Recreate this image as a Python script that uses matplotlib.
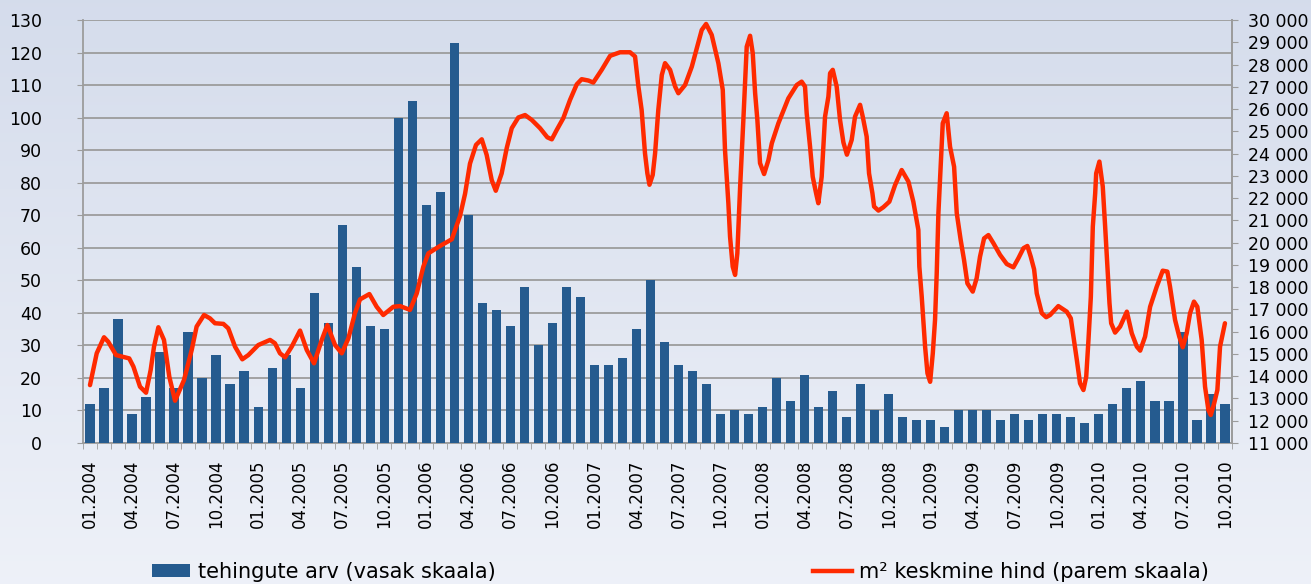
import numpy as np
import matplotlib
matplotlib.use('agg')
import matplotlib.pyplot as plt
from matplotlib.patches import Patch
from matplotlib.lines import Line2D
from matplotlib.ticker import FuncFormatter, FixedLocator

# monthly number of transactions (left scale), 01.2004 .. 10.2010
deals = [12, 17, 38, 9, 14, 28, 17, 34, 20, 27, 18, 22,
         11, 23, 27, 17, 46, 37, 67, 54, 36, 35, 100, 105,
         73, 77, 123, 70, 43, 41, 36, 48, 30, 37, 48, 45,
         24, 24, 26, 35, 50, 31, 24, 22, 18, 9, 10, 9,
         11, 20, 13, 21, 11, 16, 8, 18, 10, 15, 8, 7,
         7, 5, 10, 10, 10, 7, 9, 7, 9, 9, 8, 6,
         9, 12, 17, 19, 13, 13, 34, 7, 15, 12]

# average price per m2 (right scale); position in months from 01.2004
price_month = [0.0, 0.48, 1.0, 1.3, 1.86, 2.8, 3.1, 3.57, 4.0, 4.33, 4.57, 4.88, 5.28, 5.66, 6.07,
               6.71, 7.26, 7.61, 8.14, 8.56, 8.92, 9.52, 9.87, 10.35, 10.87, 11.3, 12.01, 12.85,
               13.2, 13.56, 13.92, 14.4, 14.99, 15.47, 15.99, 16.54, 16.94, 17.49, 17.97, 18.44,
               18.91, 19.27, 19.94, 20.46, 20.93, 21.65, 22.13, 22.84, 23.32, 23.79, 24.15, 24.98,
               25.82, 26.41, 26.77, 27.12, 27.55, 27.96, 28.31, 28.67, 28.96, 29.38, 29.74, 30.1,
               30.57, 31.05, 31.53, 32.12, 32.64, 32.96, 33.31, 33.78, 34.26, 34.74, 35.09, 35.57,
               35.92, 36.52, 37.12, 37.83, 38.54, 38.9, 39.14, 39.37, 39.61, 39.78, 39.93, 40.16,
               40.33, 40.56, 40.81, 41.04, 41.4, 41.76, 41.99, 42.47, 42.95, 43.31, 43.66, 43.97,
               44.37, 44.85, 45.16, 45.32, 45.56, 45.68, 45.87, 46.04, 46.2, 46.4, 46.63, 46.87,
               47.11, 47.3, 47.47, 47.63, 47.82, 48.11, 48.42, 48.66, 49.13, 49.84, 50.44, 50.79,
               51.03, 51.15, 51.39, 51.58, 51.82, 51.98, 52.22, 52.46, 52.7, 52.82, 53.01, 53.29,
               53.53, 53.77, 54.02, 54.36, 54.6, 54.96, 55.15, 55.43, 55.6, 55.84, 55.96, 56.27,
               56.62, 57.05, 57.46, 57.93, 58.41, 58.76, 59.12, 59.19, 59.36, 59.6, 59.77, 59.96,
               60.15, 60.31, 60.43, 60.55, 60.72, 60.86, 61.14, 61.38, 61.67, 61.86, 62.14, 62.38,
               62.62, 63.0, 63.28, 63.52, 63.81, 64.12, 64.48, 64.95, 65.43, 65.9, 66.26, 66.62,
               66.9, 67.14, 67.38, 67.57, 67.93, 68.24, 68.52, 69.11, 69.71, 70.0, 70.19, 70.43,
               70.66, 70.9, 71.1, 71.26, 71.43, 71.57, 71.74, 71.81, 72.04, 72.28, 72.45, 72.61,
               72.76, 72.88, 73.16, 73.52, 74.0, 74.35, 74.71, 74.95, 75.3, 75.66, 76.13, 76.56,
               76.89, 77.08, 77.44, 77.74, 77.99, 78.27, 78.51, 78.79, 79.03, 79.34, 79.58, 79.82,
               79.99, 80.23, 80.46, 80.65, 81.0]
price_value = [13600, 15030, 15750, 15550, 14950, 14800, 14430, 13530, 13260, 14280, 15330, 16200,
               15630, 13980, 12900, 13830, 15180, 16230, 16750, 16600, 16380, 16350, 16150, 15330,
               14760, 14950, 15400, 15630, 15480, 15030, 14850, 15330, 16050, 15180, 14580, 15630,
               16300, 15400, 15030, 15700, 16830, 17450, 17690, 17120, 16750, 17120, 17150, 16980,
               17720, 18920, 19520, 19850, 20150, 21200, 22200, 23550, 24390, 24640, 23940, 22810,
               22330, 23110, 24240, 25140, 25620, 25730, 25510, 25140, 24730, 24640, 25060, 25590,
               26410, 27110, 27340, 27280, 27190, 27760, 28390, 28550, 28550, 28360, 27010, 25960,
               24010, 23110, 22600, 23040, 24010, 25960, 27530, 28060, 27760, 27010, 26710, 27080,
               27900, 28730, 29550, 29820, 29330, 28050, 26860, 24160, 21770, 20270, 18920, 18550,
               19520, 22510, 25510, 28800, 29290, 28510, 26710, 25510, 23570, 23080, 23710, 24460,
               25360, 26480, 27080, 27230, 27010, 25810, 24310, 22960, 22220, 21770, 22960, 25660,
               26560, 27610, 27760, 27010, 25510, 24500, 23950, 24610, 25660, 26190, 25660, 24760,
               23110, 22220, 21620, 21440, 21590, 21840, 22590, 23260, 22740, 21840, 20570, 18920,
               17570, 15330, 14130, 13750, 15030, 16530, 18620, 21320, 23560, 25360, 25810, 24310,
               23410, 21320, 20120, 19220, 18170, 17800, 18400, 19370, 20190, 20340, 19970, 19450,
               19040, 18890, 19300, 19750, 19850, 19370, 18800, 17720, 16830, 16650, 16750, 17150,
               16900, 16600, 15780, 14730, 13680, 13380, 13980, 15630, 17570, 20720, 22220, 23110,
               23640, 22520, 20720, 18920, 17280, 16380, 15960, 16230, 16900, 15930, 15330, 15150,
               15780, 17120, 18020, 18740, 18700, 18020, 16530, 15780, 15300, 15930, 16830, 17350,
               17120, 15630, 13530, 12480, 12260, 12780, 13380, 15330, 16380]

start_year = 2004
month_labels = ['%02d.%d' % (m % 12 + 1, start_year + m // 12) for m in range(0, len(deals), 3)]

bar_color = '#255B8F'
line_color = '#FF2A00'
grid_color = '#9c9c9c'

plt.rcParams['font.family'] = 'DejaVu Sans'
fig = plt.figure(figsize=(13.11, 5.84), dpi=100)

# background gradient
bg = fig.add_axes([0, 0, 1, 1], zorder=-10)
grad = np.linspace(0, 1, 256).reshape(-1, 1)
top = np.array([0.835, 0.864, 0.925])
bot = np.array([0.933, 0.945, 0.973])
img = top[None, None, :] * (1 - grad[:, :, None]) + bot[None, None, :] * grad[:, :, None]
bg.imshow(img, aspect='auto', extent=[0, 1, 0, 1])
bg.axis('off')

ax = fig.add_axes([0.0633, 0.2414, 0.8764, 0.7244])
ax.patch.set_alpha(0)
x = np.arange(len(deals))
ax.bar(x, deals, width=0.66, color=bar_color, zorder=3)
ax.set_xlim(-0.5, len(deals) - 0.5)
ax.set_ylim(0, 130)
ax.set_yticks(np.arange(0, 131, 10))
ax.yaxis.grid(True, color=grid_color, lw=1.3, zorder=0)
ax.set_axisbelow(True)
ax.set_xticks(x[::3])
ax.set_xticklabels(month_labels, rotation=90)
ax.xaxis.set_minor_locator(FixedLocator(np.arange(-0.5, len(deals), 1)))
ax.tick_params(axis='x', which='major', length=0, pad=12, labelsize=12)
ax.tick_params(axis='x', which='minor', length=4, color=grid_color, direction='out')
ax.tick_params(axis='y', length=4.5, color=grid_color, pad=25, labelsize=12.5)
for s in ['top']:
    ax.spines[s].set_visible(False)
for s in ['left', 'bottom', 'right']:
    ax.spines[s].set_color(grid_color)
    ax.spines[s].set_linewidth(1.3)

ax2 = ax.twinx()
ax2.plot(price_month, price_value, color=line_color, lw=3.2,
         solid_joinstyle='round', solid_capstyle='round', zorder=5)
ax2.set_ylim(11000, 30000)
ax2.set_yticks(np.arange(11000, 30001, 1000))
ax2.yaxis.set_major_formatter(FuncFormatter(lambda v, p: f'{int(v):,}'.replace(',', ' ')))
ax2.tick_params(axis='y', length=4.5, color=grid_color, pad=7, labelsize=12.5)
for s in ['top', 'left', 'bottom']:
    ax2.spines[s].set_visible(False)
ax2.spines['right'].set_color(grid_color)
ax2.spines['right'].set_linewidth(1.3)

handles = [Patch(facecolor=bar_color, edgecolor='none'),
           Line2D([0], [0], color=line_color, lw=3.2)]
fig.legend(handles, ['tehingute arv (vasak skaala)', 'm² keskmine hind (parem skaala)'],
           loc='center left', bbox_to_anchor=(0.1095, 0.021), ncol=2, frameon=False,
           fontsize=15, handlelength=1.85, handleheight=0.6, handletextpad=0.35,
           columnspacing=15.25, borderaxespad=0)

fig.savefig('out.png', dpi=100)
